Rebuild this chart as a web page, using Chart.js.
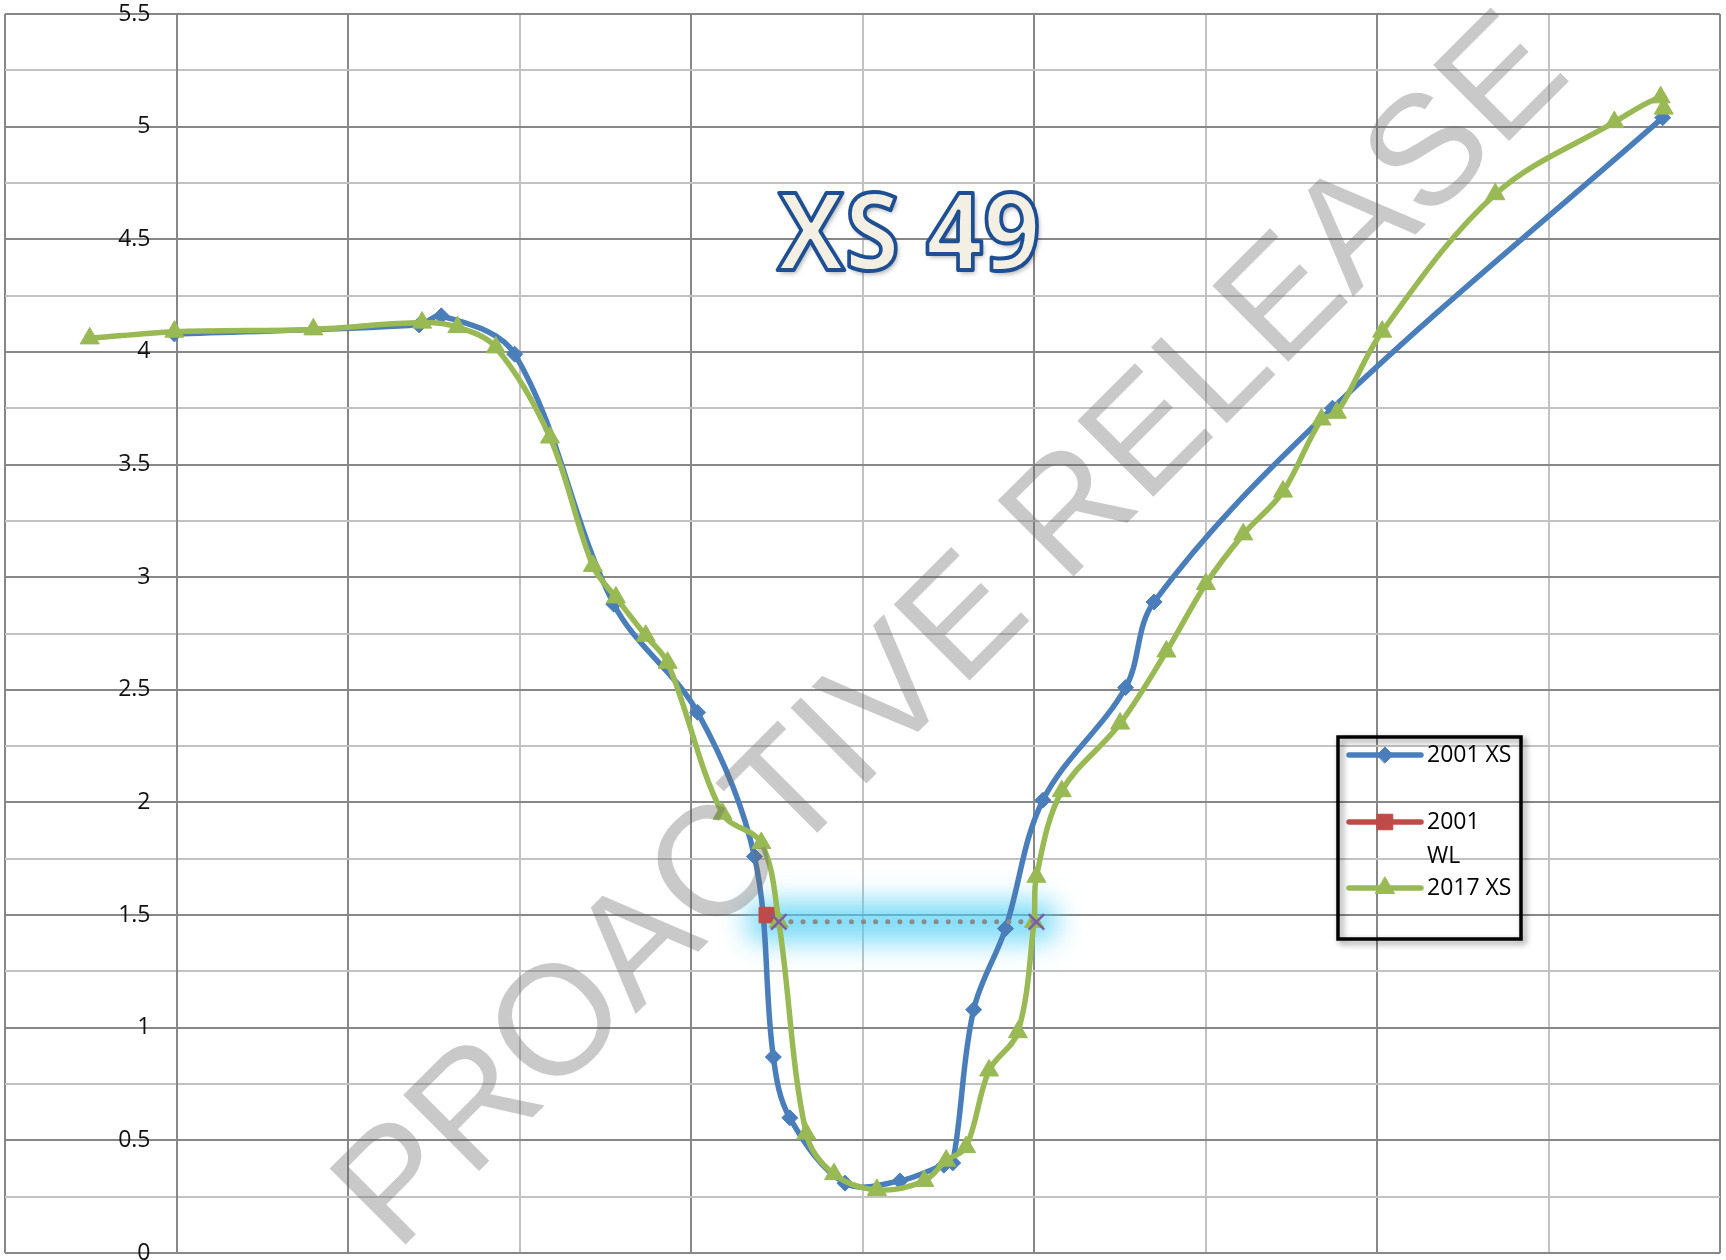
<!DOCTYPE html>
<html>
<head>
<meta charset="utf-8">
<title>XS 49</title>
<script src="https://cdn.jsdelivr.net/npm/chart.js@4/dist/chart.umd.min.js"></script>
<style>
html, body { margin: 0; padding: 0; background: #fff; overflow: hidden; }
#caixa { position: relative; width: 1726px; height: 1260px; }
</style>
</head>
<body>
<div id="caixa"><canvas id="graficoCanvas"></canvas></div>
<script>
// DADOS

// 2001 XS
const xs2001 = [4.94, 12.07, 12.72, 14.86, 17.75, 20.19, 21.85, 22.40, 22.88, 24.49, 26.09, 27.37, 27.63, 28.24, 29.17, 30.26, 32.67, 33.50, 38.70, 48.33]
const ys2001 = [4.08, 4.12, 4.16, 3.99, 2.88, 2.40, 1.76, 0.87, 0.60, 0.31, 0.32, 0.39, 0.40, 1.08, 1.44, 2.01, 2.51, 2.89, 3.75, 5.04]

// 2001 WL
const xsWL = [22.21]
const ysWL = [1.50]

// 2017 XS
const xs2017 = [2.47, 4.94, 8.99, 12.16, 13.19, 14.31, 15.89, 17.14, 17.81, 18.68, 19.32, 20.92, 22.05, 22.56, 23.36, 24.17, 25.42, 26.80, 27.44, 28.02, 28.69, 29.53, 30.00, 30.07, 30.81, 32.51, 33.86, 35.01, 36.10, 37.26, 38.38, 38.83, 40.15, 43.45, 46.92, 48.27, 48.36]
const ys2017 = [4.06, 4.09, 4.10, 4.13, 4.11, 4.02, 3.62, 3.05, 2.91, 2.74, 2.62, 1.95, 1.82, 1.47, 0.53, 0.35, 0.28, 0.32, 0.41, 0.47, 0.81, 0.98, 1.47, 1.67, 2.05, 2.35, 2.67, 2.97, 3.19, 3.38, 3.70, 3.73, 4.09, 4.70, 5.02, 5.13, 5.08]

// linha pontilhada do nivel (sem legenda)
const xsNivel = [22.56, 30.07]
const ysNivel = [1.47, 1.47]

// eixos
const eixoXmin = 0, eixoXmax = 50, passoX = 5
const eixoYmin = 0, eixoYmax = 5.5, passoY = 0.25
const legendaTextos = [['2001 XS'], ['2001', 'WL'], ['2017 XS']]
const titulo = 'XS 49'
const marcaDagua = 'PROACTIVE RELEASE'

//FIM DOS DADOS

const azul = '#4a7ebb'
const vermelho = '#be4b48'
const verde = '#98b954'
const escuro = '#878787'
const claro = '#c2c2c2'

const pontos = (xs, ys) => xs.map((x, i) => ({ x: x, y: ys[i] }))
const ehMaior = (v) => Math.round(v * 100) % 50 === 0

// brilho azul claro por baixo da linha pontilhada (antes de todas as series)
const brilho = {
	id: 'brilho',
	beforeDatasetsDraw(chart) {
		const pts = chart.getDatasetMeta(3).data
		const c = chart.ctx
		c.save()
		c.filter = 'blur(14px)'
		c.strokeStyle = 'rgba(75,205,244,0.75)'
		c.lineWidth = 40
		c.lineCap = 'round'
		c.beginPath()
		c.moveTo(pts[0].x - 14, pts[0].y)
		c.lineTo(pts[pts.length - 1].x + 2, pts[pts.length - 1].y)
		c.stroke()
		c.restore()
	}
}

// rotulos do eixo y, titulo, legenda e marca d'agua
const extras = {
	id: 'extras',
	afterDraw(chart) {
		const c = chart.ctx
		const ey = chart.scales.y
		const xEixo = chart.scales.x.getPixelForValue(5)

		// rotulos y
		c.save()
		c.font = '23px "Open Sans"'
		c.fillStyle = '#111'
		c.textAlign = 'right'
		c.textBaseline = 'middle'
		ey.ticks.forEach(t => {
			if (!ehMaior(t.value)) return
			c.fillText(String(t.value), xEixo - 26, ey.getPixelForValue(t.value))
		})
		c.restore()

		// titulo com contorno
		c.save()
		c.font = 'bold 108px "Open Sans"'
		const w = c.measureText(titulo).width
		c.translate(909, 270)
		c.scale(263 / w, 1)
		c.textAlign = 'center'
		c.textBaseline = 'alphabetic'
		c.shadowColor = 'rgba(0,0,0,0.35)'
		c.shadowBlur = 5
		c.shadowOffsetX = 2
		c.shadowOffsetY = 3
		c.fillStyle = '#f3f0e3'
		c.fillText(titulo, 0, 0)
		c.shadowColor = 'transparent'
		c.lineWidth = 4
		c.strokeStyle = '#1f4f93'
		c.lineJoin = 'round'
		c.strokeText(titulo, 0, 0)
		c.restore()

		// legenda
		const bx = 1338, by = 737, bw = 183, bh = 202
		c.save()
		c.shadowColor = 'rgba(0,0,0,0.45)'
		c.shadowBlur = 6
		c.shadowOffsetX = 3
		c.shadowOffsetY = 3
		c.strokeStyle = '#000'
		c.lineWidth = 3.5
		c.strokeRect(bx, by, bw, bh)
		c.restore()

		const linhas = [755, 822, 888]
		c.save()
		c.font = '23px "Open Sans"'
		c.textBaseline = 'middle'
		;[0, 1, 2].forEach((d, i) => {
			const ds = chart.data.datasets[d]
			const y = linhas[i]
			c.strokeStyle = ds.borderColor
			c.lineWidth = 5.5
			c.lineCap = 'round'
			c.beginPath()
			c.moveTo(1349, y)
			c.lineTo(1421, y)
			c.stroke()
			c.fillStyle = ds.backgroundColor
			c.lineWidth = 1
			Chart.helpers.drawPoint(c, { pointStyle: ds.pointStyle, radius: ds.pointRadius, borderWidth: 1, rotation: 0 }, 1385, y)
			c.fillStyle = '#000'
			legendaTextos[i].forEach((t, k) => c.fillText(t, 1427, y + k * 34))
		})
		c.restore()

		// marca d'agua
		c.save()
		c.translate(985, 665)
		c.rotate(-45 * Math.PI / 180)
		c.font = '156px "Liberation Sans"'
		c.fillStyle = 'rgba(105,105,105,0.36)'
		c.textAlign = 'center'
		c.textBaseline = 'alphabetic'
		c.fillText(marcaDagua, 0, 0)
		c.restore()
	}
}

const ctx = document.getElementById('graficoCanvas').getContext('2d')

const grafico = new Chart(ctx, {
	type: 'scatter',
	data: {
		datasets: [{
			label: '2001 XS',
			data: pontos(xs2001, ys2001),
			showLine: true,
			tension: 0.35,
			borderColor: azul,
			backgroundColor: azul,
			borderWidth: 5.5,
			pointStyle: 'rectRot',
			pointRadius: 8,
			pointBorderWidth: 1,
			order: 3
		},
		{
			label: '2001 WL',
			data: pontos(xsWL, ysWL),
			showLine: true,
			borderColor: vermelho,
			backgroundColor: vermelho,
			borderWidth: 5.5,
			pointStyle: 'rect',
			pointRadius: 11,
			pointBorderWidth: 1,
			order: 2
		},
		{
			label: '2017 XS',
			data: pontos(xs2017, ys2017),
			showLine: true,
			tension: 0.35,
			borderColor: verde,
			backgroundColor: verde,
			borderWidth: 5.5,
			pointStyle: 'triangle',
			pointRadius: 11,
			pointBorderWidth: 1,
			order: 1
		},
		{
			label: 'nivel',
			data: pontos(xsNivel, ysNivel),
			showLine: true,
			borderColor: '#8a8a8a',
			backgroundColor: '#8a8a8a',
			borderWidth: 5,
			borderDash: [0.1, 12],
			borderCapStyle: 'round',
			pointStyle: 'crossRot',
			pointRadius: 11,
			pointBorderColor: '#7b5ea7',
			pointBorderWidth: 2.5,
			order: 0
		}]
	},
	options: {
		responsive: true,
		maintainAspectRatio: false,
		animation: false,
		layout: {
			autoPadding: false,
			padding: { left: 5, right: 6, top: 14, bottom: 7 }
		},
		scales: {
			x: {
				type: 'linear',
				min: eixoXmin,
				max: eixoXmax,
				ticks: { stepSize: passoX, display: false },
				grid: {
					color: (c) => (c.tick && c.tick.value % 10 === 0) ? escuro : claro,
					lineWidth: 2,
					drawTicks: false
				},
				border: { display: false }
			},
			y: {
				type: 'linear',
				min: eixoYmin,
				max: eixoYmax,
				position: { x: 5 },
				ticks: { stepSize: passoY, autoSkip: false, display: false },
				grid: {
					color: (c) => (c.tick && ehMaior(c.tick.value)) ? escuro : claro,
					lineWidth: 2,
					drawTicks: false
				},
				border: { display: true, color: escuro, width: 2 }
			}
		},
		plugins: {
			legend: { display: false },
			tooltip: { enabled: false }
		}
	},
	plugins: [brilho, extras]
})
</script>
</body>
</html>
